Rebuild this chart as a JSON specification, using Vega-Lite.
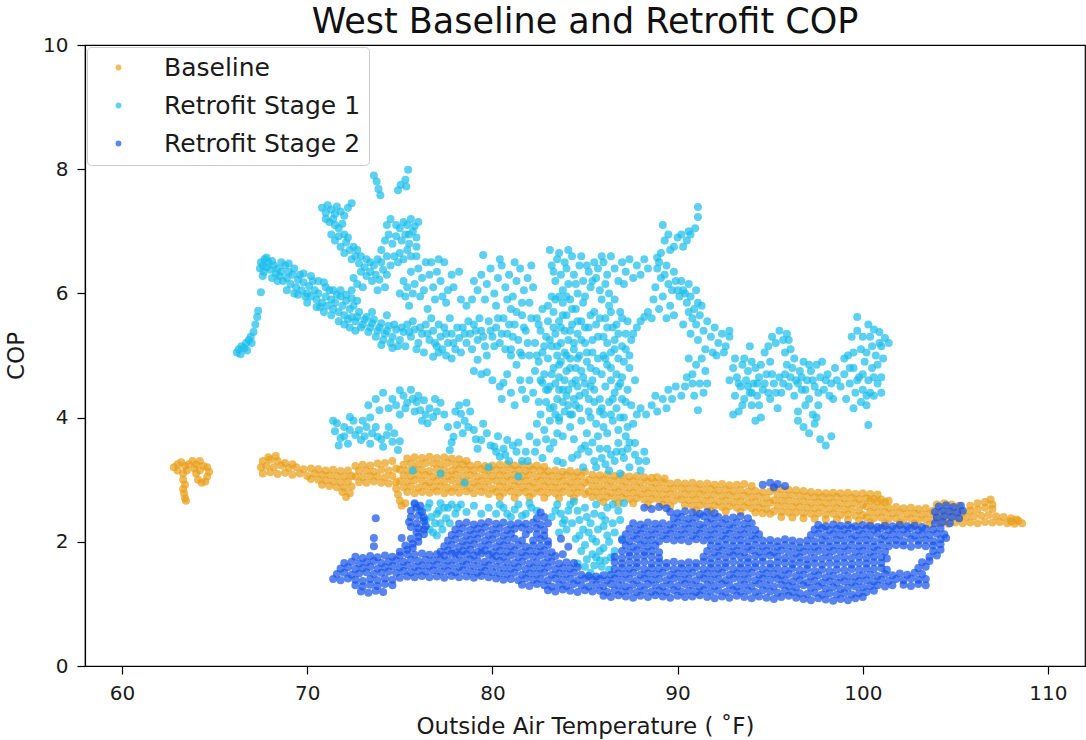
{
  "$schema": "https://vega.github.io/schema/vega-lite/v6.json",
  "width": 1000,
  "height": 621,
  "autosize": {"type": "none"},
  "padding": {"left": 85, "top": 45, "right": 1, "bottom": 74},
  "background": "white",
  "title": {"text": "West Baseline and Retrofit COP", "font": "DejaVu Sans", "fontSize": 35, "fontWeight": "normal", "color": "#111111", "anchor": "middle", "offset": -5},
  "datasets": {
    "baseline": [
      {"x":62.8,"y":3.2},{"x":63.0,"y":3.25},{"x":63.2,"y":3.28},{"x":63.4,"y":3.22},{"x":63.6,"y":3.25},{"x":63.8,"y":3.3},{"x":64.0,"y":3.25},{"x":64.2,"y":3.3},{"x":64.4,"y":3.22},{"x":64.6,"y":3.2},{"x":64.7,"y":3.13},{"x":63.0,"y":3.15},{"x":63.3,"y":3.1},{"x":63.5,"y":3.15},{"x":63.3,"y":3.0},{"x":63.4,"y":2.92},{"x":63.3,"y":2.85},{"x":63.35,"y":2.78},{"x":63.4,"y":2.7},{"x":63.45,"y":2.66},{"x":64.0,"y":3.1},{"x":64.1,"y":3.0},{"x":64.3,"y":2.95},{"x":64.5,"y":2.97},{"x":64.6,"y":3.05},{"x":64.2,"y":3.15},{"x":63.9,"y":3.18},
      {"x":67.6,"y":3.1},{"x":68.0,"y":3.12},{"x":68.4,"y":3.09},{"x":68.8,"y":3.11},{"x":69.2,"y":3.08},{"x":69.6,"y":3.1},{"x":70.0,"y":3.06},
      {"x":67.5,"y":3.2},{"x":67.8,"y":3.22},{"x":68.2,"y":3.2},{"x":68.6,"y":3.23},{"x":69.0,"y":3.19},{"x":69.4,"y":3.2},{"x":69.8,"y":3.17},
      {"x":67.6,"y":3.3},{"x":68.0,"y":3.32},{"x":68.4,"y":3.3},{"x":68.8,"y":3.27},{"x":69.2,"y":3.25},{"x":67.9,"y":3.36},{"x":68.3,"y":3.38},
      {"x":70.2,"y":3.18},{"x":70.6,"y":3.17},{"x":71.0,"y":3.15},{"x":71.4,"y":3.16},{"x":71.8,"y":3.14},{"x":72.2,"y":3.15},
      {"x":70.4,"y":3.1},{"x":70.8,"y":3.08},{"x":71.2,"y":3.07},{"x":71.6,"y":3.06},{"x":72.0,"y":3.05},{"x":72.4,"y":3.06},
      {"x":70.2,"y":3.01},{"x":70.6,"y":3.0},{"x":71.0,"y":2.99},{"x":71.4,"y":2.97},{"x":71.8,"y":2.96},{"x":72.2,"y":2.97},
      {"x":70.8,"y":2.92},{"x":71.2,"y":2.9},{"x":71.6,"y":2.88},{"x":72.0,"y":2.87},{"x":72.4,"y":2.89},{"x":71.9,"y":2.8},{"x":72.1,"y":2.72},{"x":72.3,"y":2.78},
      {"x":72.6,"y":3.22},{"x":73.0,"y":3.24},{"x":73.4,"y":3.23},{"x":73.8,"y":3.26},{"x":74.2,"y":3.27},{"x":74.6,"y":3.3},
      {"x":72.8,"y":3.14},{"x":73.2,"y":3.15},{"x":73.6,"y":3.13},{"x":74.0,"y":3.16},{"x":74.4,"y":3.15},{"x":74.8,"y":3.18},
      {"x":72.6,"y":3.05},{"x":73.0,"y":3.04},{"x":73.4,"y":3.06},{"x":73.8,"y":3.05},{"x":74.2,"y":3.04},{"x":74.6,"y":3.06},
      {"x":72.8,"y":2.96},{"x":73.2,"y":2.95},{"x":73.6,"y":2.97},{"x":74.0,"y":2.95},{"x":74.4,"y":2.94},{"x":74.8,"y":2.96},
      {"x":74.8,"y":2.86},{"x":74.9,"y":2.76},{"x":75.0,"y":2.66},{"x":75.1,"y":2.58},{"x":75.3,"y":2.62},
      {"x":75.4,"y":3.34},{"x":75.8,"y":3.36},{"x":76.2,"y":3.35},{"x":76.6,"y":3.37},{"x":77.0,"y":3.35},{"x":77.4,"y":3.36},{"x":77.8,"y":3.34},{"x":78.2,"y":3.33},{"x":78.6,"y":3.3},
      {"x":75.2,"y":3.24},{"x":75.6,"y":3.26},{"x":76.0,"y":3.25},{"x":76.4,"y":3.27},{"x":76.8,"y":3.26},{"x":77.2,"y":3.25},{"x":77.6,"y":3.27},{"x":78.0,"y":3.24},{"x":78.4,"y":3.25},{"x":78.8,"y":3.23},{"x":79.2,"y":3.24},{"x":79.6,"y":3.22},{"x":80.0,"y":3.23},
      {"x":75.0,"y":3.16},{"x":75.4,"y":3.15},{"x":75.8,"y":3.17},{"x":76.2,"y":3.16},{"x":76.6,"y":3.14},{"x":77.0,"y":3.17},{"x":77.4,"y":3.16},{"x":77.8,"y":3.15},{"x":78.2,"y":3.17},{"x":78.6,"y":3.16},{"x":79.0,"y":3.15},{"x":79.4,"y":3.17},{"x":79.8,"y":3.15},
      {"x":75.2,"y":3.07},{"x":75.6,"y":3.06},{"x":76.0,"y":3.08},{"x":76.4,"y":3.07},{"x":76.8,"y":3.05},{"x":77.2,"y":3.07},{"x":77.6,"y":3.06},{"x":78.0,"y":3.08},{"x":78.4,"y":3.06},{"x":78.8,"y":3.07},{"x":79.2,"y":3.05},{"x":79.6,"y":3.07},{"x":80.0,"y":3.06},
      {"x":75.0,"y":2.98},{"x":75.4,"y":2.97},{"x":75.8,"y":2.99},{"x":76.2,"y":2.98},{"x":76.6,"y":2.96},{"x":77.0,"y":2.98},{"x":77.4,"y":2.97},{"x":77.8,"y":2.99},{"x":78.2,"y":2.97},{"x":78.6,"y":2.98},{"x":79.0,"y":2.96},{"x":79.4,"y":2.98},{"x":79.8,"y":2.97},
      {"x":75.2,"y":2.88},{"x":75.6,"y":2.89},{"x":76.0,"y":2.87},{"x":76.4,"y":2.9},{"x":76.8,"y":2.88},{"x":77.2,"y":2.89},{"x":77.6,"y":2.87},{"x":78.0,"y":2.88},{"x":78.4,"y":2.9},{"x":78.8,"y":2.87},{"x":79.2,"y":2.89},{"x":79.6,"y":2.88},{"x":80.0,"y":2.86},
      {"x":75.4,"y":2.8},{"x":75.8,"y":2.78},{"x":76.2,"y":2.8},{"x":76.6,"y":2.79},{"x":77.0,"y":2.81},{"x":77.4,"y":2.78},{"x":77.8,"y":2.8},{"x":78.2,"y":2.79},{"x":78.6,"y":2.81},{"x":79.0,"y":2.78},{"x":79.4,"y":2.8},{"x":79.8,"y":2.77},
      {"x":80.4,"y":3.24},{"x":80.8,"y":3.25},{"x":81.2,"y":3.23},{"x":81.6,"y":3.24},{"x":82.0,"y":3.22},{"x":82.4,"y":3.23},{"x":82.8,"y":3.21},
      {"x":80.2,"y":3.16},{"x":80.6,"y":3.15},{"x":81.0,"y":3.17},{"x":81.4,"y":3.16},{"x":81.8,"y":3.14},{"x":82.2,"y":3.16},{"x":82.6,"y":3.15},{"x":83.0,"y":3.14},{"x":83.4,"y":3.15},{"x":83.8,"y":3.13},{"x":84.2,"y":3.14},{"x":84.6,"y":3.12},{"x":85.0,"y":3.13},
      {"x":80.4,"y":3.07},{"x":80.8,"y":3.06},{"x":81.2,"y":3.08},{"x":81.6,"y":3.06},{"x":82.0,"y":3.07},{"x":82.4,"y":3.05},{"x":82.8,"y":3.07},{"x":83.2,"y":3.06},{"x":83.6,"y":3.05},{"x":84.0,"y":3.07},{"x":84.4,"y":3.05},{"x":84.8,"y":3.06},
      {"x":80.2,"y":2.98},{"x":80.6,"y":2.97},{"x":81.0,"y":2.99},{"x":81.4,"y":2.97},{"x":81.8,"y":2.98},{"x":82.2,"y":2.96},{"x":82.6,"y":2.98},{"x":83.0,"y":2.97},{"x":83.4,"y":2.96},{"x":83.8,"y":2.98},{"x":84.2,"y":2.96},{"x":84.6,"y":2.97},{"x":85.0,"y":2.95},
      {"x":80.4,"y":2.89},{"x":80.8,"y":2.88},{"x":81.2,"y":2.9},{"x":81.6,"y":2.88},{"x":82.0,"y":2.89},{"x":82.4,"y":2.87},{"x":82.8,"y":2.89},{"x":83.2,"y":2.88},{"x":83.6,"y":2.87},{"x":84.0,"y":2.89},{"x":84.4,"y":2.87},{"x":84.8,"y":2.88},
      {"x":80.2,"y":2.8},{"x":80.6,"y":2.79},{"x":81.0,"y":2.81},{"x":81.4,"y":2.79},{"x":81.8,"y":2.8},{"x":82.2,"y":2.78},{"x":82.6,"y":2.8},{"x":83.0,"y":2.79},{"x":83.4,"y":2.78},{"x":83.8,"y":2.8},{"x":84.2,"y":2.78},{"x":84.6,"y":2.79},{"x":85.0,"y":2.77},
      {"x":80.4,"y":2.72},{"x":81.2,"y":2.71},{"x":82.0,"y":2.72},{"x":82.8,"y":2.71},{"x":83.6,"y":2.7},{"x":84.4,"y":2.7},
      {"x":85.4,"y":3.08},{"x":85.8,"y":3.07},{"x":86.2,"y":3.08},{"x":86.6,"y":3.06},{"x":87.0,"y":3.07},{"x":87.4,"y":3.05},{"x":87.8,"y":3.06},{"x":88.2,"y":3.04},{"x":88.6,"y":3.03},{"x":88.9,"y":3.04},{"x":89.3,"y":3.02},
      {"x":85.2,"y":3.0},{"x":85.6,"y":2.99},{"x":86.0,"y":3.0},{"x":86.4,"y":2.98},{"x":86.8,"y":2.99},{"x":87.2,"y":2.97},{"x":87.6,"y":2.98},{"x":88.0,"y":2.96},{"x":88.4,"y":2.97},{"x":88.8,"y":2.95},{"x":89.2,"y":2.96},{"x":89.6,"y":2.94},{"x":90.0,"y":2.95},
      {"x":85.4,"y":2.9},{"x":85.8,"y":2.89},{"x":86.2,"y":2.9},{"x":86.6,"y":2.88},{"x":87.0,"y":2.89},{"x":87.4,"y":2.87},{"x":87.8,"y":2.88},{"x":88.2,"y":2.86},{"x":88.6,"y":2.87},{"x":89.0,"y":2.86},{"x":89.4,"y":2.85},{"x":89.8,"y":2.86},
      {"x":85.2,"y":2.81},{"x":85.6,"y":2.8},{"x":86.0,"y":2.81},{"x":86.4,"y":2.79},{"x":86.8,"y":2.8},{"x":87.2,"y":2.78},{"x":87.6,"y":2.79},{"x":88.0,"y":2.77},{"x":88.4,"y":2.78},{"x":88.8,"y":2.77},{"x":89.2,"y":2.76},{"x":89.6,"y":2.77},{"x":90.0,"y":2.75},
      {"x":85.4,"y":2.72},{"x":85.8,"y":2.71},{"x":86.2,"y":2.72},{"x":86.6,"y":2.7},{"x":87.0,"y":2.71},{"x":87.4,"y":2.69},{"x":87.8,"y":2.7},{"x":88.2,"y":2.68},{"x":88.6,"y":2.69},{"x":89.0,"y":2.67},{"x":89.4,"y":2.68},{"x":89.8,"y":2.66},
      {"x":86.0,"y":2.64},{"x":86.8,"y":2.62},{"x":87.6,"y":2.62},{"x":88.4,"y":2.6},{"x":89.2,"y":2.6},{"x":89.6,"y":2.58},
      {"x":90.4,"y":2.94},{"x":90.8,"y":2.95},{"x":91.2,"y":2.93},{"x":91.6,"y":2.94},{"x":92.0,"y":2.92},{"x":92.4,"y":2.93},{"x":92.8,"y":2.91},{"x":93.2,"y":2.92},{"x":93.6,"y":2.93},{"x":94.0,"y":2.9},
      {"x":90.2,"y":2.86},{"x":90.6,"y":2.85},{"x":91.0,"y":2.86},{"x":91.4,"y":2.84},{"x":91.8,"y":2.85},{"x":92.2,"y":2.83},{"x":92.6,"y":2.84},{"x":93.0,"y":2.82},{"x":93.4,"y":2.83},{"x":93.8,"y":2.81},{"x":94.2,"y":2.82},{"x":94.6,"y":2.8},{"x":95.0,"y":2.81},
      {"x":90.4,"y":2.77},{"x":90.8,"y":2.76},{"x":91.2,"y":2.77},{"x":91.6,"y":2.75},{"x":92.0,"y":2.76},{"x":92.4,"y":2.74},{"x":92.8,"y":2.75},{"x":93.2,"y":2.73},{"x":93.6,"y":2.74},{"x":94.0,"y":2.72},{"x":94.4,"y":2.73},{"x":94.8,"y":2.71},
      {"x":90.2,"y":2.68},{"x":90.6,"y":2.67},{"x":91.0,"y":2.68},{"x":91.4,"y":2.66},{"x":91.8,"y":2.67},{"x":92.2,"y":2.65},{"x":92.6,"y":2.66},{"x":93.0,"y":2.64},{"x":93.4,"y":2.65},{"x":93.8,"y":2.63},{"x":94.2,"y":2.64},{"x":94.6,"y":2.62},{"x":95.0,"y":2.63},
      {"x":90.4,"y":2.59},{"x":90.8,"y":2.58},{"x":91.2,"y":2.59},{"x":91.6,"y":2.57},{"x":92.0,"y":2.58},{"x":92.4,"y":2.56},{"x":92.8,"y":2.57},{"x":93.2,"y":2.55},{"x":93.6,"y":2.56},{"x":94.0,"y":2.54},{"x":94.4,"y":2.55},{"x":94.8,"y":2.53},
      {"x":91.0,"y":2.51},{"x":91.8,"y":2.5},{"x":92.6,"y":2.49},{"x":93.4,"y":2.48},{"x":94.2,"y":2.47},{"x":94.6,"y":2.46},{"x":95.0,"y":2.45},
      {"x":95.2,"y":2.86},{"x":95.6,"y":2.85},{"x":96.0,"y":2.84},{"x":96.4,"y":2.83},{"x":96.8,"y":2.82},{"x":97.2,"y":2.8},{"x":97.6,"y":2.79},
      {"x":95.4,"y":2.76},{"x":95.8,"y":2.75},{"x":96.2,"y":2.75},{"x":96.6,"y":2.74},{"x":97.0,"y":2.73},{"x":97.4,"y":2.72},{"x":97.8,"y":2.72},{"x":98.2,"y":2.71},{"x":98.6,"y":2.72},{"x":99.0,"y":2.7},{"x":99.4,"y":2.71},{"x":99.8,"y":2.69},
      {"x":95.2,"y":2.67},{"x":95.6,"y":2.66},{"x":96.0,"y":2.66},{"x":96.4,"y":2.64},{"x":96.8,"y":2.65},{"x":97.2,"y":2.63},{"x":97.6,"y":2.64},{"x":98.0,"y":2.62},{"x":98.4,"y":2.63},{"x":98.8,"y":2.62},{"x":99.2,"y":2.61},{"x":99.6,"y":2.62},{"x":100.0,"y":2.6},
      {"x":95.4,"y":2.58},{"x":95.8,"y":2.57},{"x":96.2,"y":2.56},{"x":96.6,"y":2.56},{"x":97.0,"y":2.55},{"x":97.4,"y":2.54},{"x":97.8,"y":2.55},{"x":98.2,"y":2.53},{"x":98.6,"y":2.54},{"x":99.0,"y":2.52},{"x":99.4,"y":2.53},{"x":99.8,"y":2.51},
      {"x":95.2,"y":2.49},{"x":95.6,"y":2.48},{"x":96.0,"y":2.47},{"x":96.4,"y":2.47},{"x":96.8,"y":2.46},{"x":97.2,"y":2.45},{"x":97.6,"y":2.46},{"x":98.0,"y":2.44},{"x":98.4,"y":2.45},{"x":98.8,"y":2.43},{"x":99.2,"y":2.44},{"x":99.6,"y":2.42},{"x":100.0,"y":2.43},
      {"x":95.6,"y":2.4},{"x":96.2,"y":2.39},{"x":96.8,"y":2.38},{"x":97.4,"y":2.37},{"x":98.0,"y":2.36},{"x":98.6,"y":2.36},{"x":99.2,"y":2.35},{"x":99.8,"y":2.34},
      {"x":98.0,"y":2.78},{"x":98.4,"y":2.79},{"x":98.8,"y":2.78},{"x":99.2,"y":2.79},{"x":99.6,"y":2.77},{"x":100.0,"y":2.78},{"x":100.4,"y":2.77},{"x":100.8,"y":2.76},
      {"x":100.2,"y":2.7},{"x":100.6,"y":2.69},{"x":101.0,"y":2.68},{"x":101.4,"y":2.66},{"x":100.4,"y":2.66},{"x":100.8,"y":2.65},{"x":101.2,"y":2.64},
      {"x":100.2,"y":2.57},{"x":100.6,"y":2.56},{"x":101.0,"y":2.57},{"x":101.4,"y":2.55},{"x":101.8,"y":2.56},{"x":102.2,"y":2.54},{"x":102.6,"y":2.55},{"x":103.0,"y":2.53},{"x":103.4,"y":2.54},
      {"x":100.4,"y":2.48},{"x":100.8,"y":2.47},{"x":101.2,"y":2.48},{"x":101.6,"y":2.46},{"x":102.0,"y":2.47},{"x":102.4,"y":2.45},{"x":102.8,"y":2.46},{"x":103.2,"y":2.44},{"x":103.6,"y":2.45},
      {"x":100.2,"y":2.39},{"x":100.6,"y":2.38},{"x":101.0,"y":2.39},{"x":101.4,"y":2.37},{"x":101.8,"y":2.38},{"x":102.2,"y":2.36},{"x":102.6,"y":2.37},{"x":103.0,"y":2.35},{"x":103.4,"y":2.36},{"x":103.8,"y":2.35},
      {"x":100.4,"y":2.31},{"x":101.2,"y":2.3},{"x":102.0,"y":2.3},{"x":102.8,"y":2.29},{"x":103.6,"y":2.28},
      {"x":104.0,"y":2.6},{"x":104.4,"y":2.62},{"x":104.8,"y":2.6},{"x":105.2,"y":2.58},
      {"x":103.8,"y":2.5},{"x":104.2,"y":2.48},{"x":104.6,"y":2.49},{"x":105.0,"y":2.48},{"x":105.4,"y":2.47},{"x":105.8,"y":2.5},{"x":106.2,"y":2.52},{"x":106.6,"y":2.55},{"x":107.0,"y":2.53},
      {"x":104.0,"y":2.4},{"x":104.4,"y":2.39},{"x":104.8,"y":2.4},{"x":105.2,"y":2.38},{"x":105.6,"y":2.4},{"x":106.0,"y":2.41},{"x":106.4,"y":2.42},{"x":106.8,"y":2.43},{"x":107.2,"y":2.41},{"x":107.6,"y":2.4},{"x":108.0,"y":2.38},{"x":108.3,"y":2.36},
      {"x":104.2,"y":2.3},{"x":104.6,"y":2.29},{"x":105.0,"y":2.31},{"x":105.4,"y":2.3},{"x":105.8,"y":2.31},{"x":106.2,"y":2.3},{"x":106.6,"y":2.32},{"x":107.0,"y":2.31},{"x":107.4,"y":2.32},{"x":107.8,"y":2.3},{"x":108.2,"y":2.29},{"x":108.6,"y":2.3},
      {"x":105.8,"y":2.58},{"x":106.2,"y":2.62},{"x":106.6,"y":2.64},{"x":107.0,"y":2.6},{"x":106.9,"y":2.68},{"x":108.0,"y":2.33},{"x":108.4,"y":2.34}
    ],
    "stage1": [
      {"x":66.2,"y":5.05},{"x":66.3,"y":5.1},{"x":66.4,"y":5.02},{"x":66.45,"y":5.15},{"x":66.6,"y":5.12},{"x":66.7,"y":5.2},{"x":66.75,"y":5.08},{"x":66.85,"y":5.25},{"x":66.95,"y":5.3},{"x":67.0,"y":5.2},{"x":67.1,"y":5.38},{"x":67.2,"y":5.5},{"x":67.3,"y":5.62},{"x":67.35,"y":5.72},{"x":67.5,"y":6.02},
      {"x":67.45,"y":6.4},{"x":67.5,"y":6.5},{"x":67.6,"y":6.45},{"x":67.7,"y":6.55},{"x":67.65,"y":6.35},{"x":67.8,"y":6.42},{"x":67.9,"y":6.5},{"x":68.0,"y":6.38},{"x":68.2,"y":6.45},{"x":68.3,"y":6.32},{"x":68.5,"y":6.28},{"x":68.8,"y":6.45},{"x":68.7,"y":6.2},{"x":68.9,"y":6.25},{"x":69.1,"y":6.15},{"x":69.2,"y":6.3},{"x":69.4,"y":6.1},{"x":69.5,"y":6.22},{"x":69.7,"y":6.05},{"x":69.8,"y":6.18},{"x":70.0,"y":6.0},{"x":70.1,"y":6.12},{"x":70.2,"y":5.95},{"x":70.4,"y":6.05},{"x":70.5,"y":5.9},{"x":70.6,"y":6.0},{"x":70.8,"y":5.85},{"x":70.9,"y":6.18},{"x":71.0,"y":5.95},{"x":71.1,"y":5.8},{"x":71.3,"y":5.9},{"x":71.4,"y":5.75},{"x":71.5,"y":5.85},{"x":71.7,"y":5.7},{"x":71.8,"y":5.95},{"x":71.9,"y":5.8},{"x":72.0,"y":5.65},{"x":72.1,"y":5.88},{"x":72.3,"y":5.75},{"x":72.4,"y":5.62},
      {"x":68.4,"y":6.4},{"x":68.6,"y":6.35},{"x":69.0,"y":6.35},{"x":69.3,"y":6.0},{"x":69.6,"y":6.3},{"x":69.9,"y":5.95},{"x":70.3,"y":6.2},{"x":70.7,"y":5.78},{"x":71.2,"y":6.05},{"x":71.6,"y":5.98},{"x":72.2,"y":5.58},{"x":72.5,"y":5.8},
      {"x":67.6,"y":6.28},{"x":67.8,"y":6.58},{"x":68.1,"y":6.52},{"x":68.1,"y":6.25},{"x":68.4,"y":6.2},{"x":68.6,"y":6.5},{"x":68.9,"y":6.05},{"x":69.0,"y":6.48},{"x":69.3,"y":6.4},{"x":69.5,"y":5.98},{"x":69.8,"y":6.32},{"x":70.0,"y":5.85},{"x":70.2,"y":6.28},{"x":70.5,"y":5.78},{"x":70.6,"y":6.2},{"x":70.9,"y":5.7},{"x":71.0,"y":6.1},{"x":71.3,"y":5.65},{"x":71.4,"y":6.05},{"x":71.7,"y":5.55},{"x":71.8,"y":6.05},{"x":72.0,"y":5.5},{"x":72.1,"y":5.98},{"x":72.3,"y":5.45},{"x":72.4,"y":5.92},{"x":72.6,"y":5.4},{"x":72.7,"y":5.88},
      {"x":70.8,"y":7.38},{"x":71.0,"y":7.3},{"x":71.1,"y":7.42},{"x":71.3,"y":7.35},{"x":71.5,"y":7.28},{"x":71.6,"y":7.4},{"x":71.8,"y":7.32},{"x":72.0,"y":7.25},{"x":72.2,"y":7.38},{"x":72.4,"y":7.45},{"x":71.2,"y":7.15},{"x":71.5,"y":7.1},{"x":71.9,"y":7.12},
      {"x":71.3,"y":6.95},{"x":71.5,"y":6.85},{"x":71.7,"y":6.92},{"x":71.8,"y":6.75},{"x":72.0,"y":6.65},{"x":72.1,"y":6.82},{"x":72.3,"y":6.7},{"x":72.4,"y":6.55},{"x":72.6,"y":6.6},{"x":72.8,"y":6.48},{"x":72.9,"y":6.35},{"x":73.1,"y":6.42},{"x":73.2,"y":6.28},{"x":73.4,"y":6.35},{"x":73.5,"y":6.2},{"x":73.7,"y":6.3},{"x":73.9,"y":6.22},{"x":74.1,"y":6.38},{"x":74.3,"y":6.3},{"x":72.5,"y":6.25},{"x":72.7,"y":6.15},{"x":73.0,"y":6.1},
      {"x":71.0,"y":7.2},{"x":71.4,"y":7.2},{"x":71.7,"y":7.05},{"x":72.0,"y":6.95},{"x":72.2,"y":6.9},{"x":72.5,"y":6.75},{"x":72.7,"y":6.7},{"x":72.9,"y":6.6},{"x":73.2,"y":6.55},{"x":73.4,"y":6.5},{"x":73.6,"y":6.45},{"x":73.8,"y":6.55},{"x":74.0,"y":6.5},{"x":74.3,"y":6.6},{"x":74.5,"y":6.45},{"x":74.9,"y":6.5},{"x":75.2,"y":6.55},{"x":75.6,"y":6.6},{"x":75.9,"y":6.75},{"x":76.0,"y":7.15},{"x":74.3,"y":7.1},{"x":74.8,"y":7.1},{"x":75.5,"y":6.95},{"x":75.9,"y":6.6},
      {"x":74.0,"y":6.7},{"x":74.2,"y":6.85},{"x":74.4,"y":6.95},{"x":74.5,"y":7.2},{"x":74.6,"y":6.8},{"x":74.8,"y":6.92},{"x":75.0,"y":7.05},{"x":75.1,"y":6.85},{"x":75.2,"y":7.15},{"x":75.3,"y":6.95},{"x":75.4,"y":7.1},{"x":75.5,"y":6.8},{"x":75.6,"y":7.2},{"x":75.7,"y":7.0},{"x":75.8,"y":7.08},{"x":75.9,"y":6.9},{"x":75.0,"y":6.65},{"x":74.7,"y":6.6},{"x":75.4,"y":6.7},
      {"x":73.6,"y":7.9},{"x":73.75,"y":7.8},{"x":73.85,"y":7.68},{"x":73.95,"y":7.58},{"x":74.9,"y":7.66},{"x":75.05,"y":7.75},{"x":75.3,"y":7.83},{"x":75.45,"y":7.99},{"x":75.35,"y":7.72},
      {"x":72.6,"y":5.55},{"x":72.8,"y":5.7},{"x":73.0,"y":5.5},{"x":73.2,"y":5.62},{"x":73.4,"y":5.45},{"x":73.6,"y":5.58},{"x":73.8,"y":5.4},{"x":74.0,"y":5.52},{"x":74.2,"y":5.35},{"x":74.4,"y":5.48},{"x":74.6,"y":5.3},{"x":74.8,"y":5.42},{"x":75.0,"y":5.25},{"x":75.2,"y":5.38},{"x":75.4,"y":5.5},{"x":75.6,"y":5.3},{"x":75.8,"y":5.42},{"x":76.0,"y":5.2},{"x":76.2,"y":5.35},{"x":76.4,"y":5.5},{"x":76.6,"y":5.25},{"x":76.8,"y":5.4},{"x":77.0,"y":5.15},{"x":77.2,"y":5.3},{"x":77.4,"y":5.45},{"x":77.6,"y":5.2},{"x":77.8,"y":5.35},{"x":78.0,"y":5.1},{"x":78.2,"y":5.28},{"x":78.4,"y":5.45},{"x":78.6,"y":5.2},{"x":78.8,"y":5.35},{"x":79.0,"y":5.5},{"x":79.2,"y":5.25},{"x":79.4,"y":5.4},{"x":79.6,"y":5.15},{"x":79.8,"y":5.55},{"x":80.0,"y":5.3},{"x":80.2,"y":5.45},{"x":80.4,"y":5.2},{"x":80.6,"y":5.6},{"x":80.8,"y":5.35},{"x":81.0,"y":5.1},{"x":81.2,"y":5.5},{"x":81.4,"y":5.25},{"x":81.6,"y":5.65},{"x":81.8,"y":5.4},{"x":82.0,"y":5.0},
      {"x":72.7,"y":5.62},{"x":72.9,"y":5.45},{"x":73.1,"y":5.58},{"x":73.3,"y":5.38},{"x":73.5,"y":5.52},{"x":73.7,"y":5.3},{"x":73.9,"y":5.45},{"x":74.1,"y":5.25},{"x":74.3,"y":5.4},{"x":74.5,"y":5.2},{"x":74.7,"y":5.5},{"x":74.9,"y":5.15},{"x":75.1,"y":5.45},{"x":75.3,"y":5.15},{"x":75.5,"y":5.38},{"x":75.7,"y":5.55},{"x":75.9,"y":5.1},{"x":76.1,"y":5.45},{"x":76.3,"y":5.05},{"x":76.5,"y":5.35},{"x":76.7,"y":5.6},{"x":76.9,"y":5.2},{"x":77.1,"y":5.5},{"x":77.3,"y":5.1},{"x":77.5,"y":5.35},{"x":77.7,"y":5.6},{"x":77.9,"y":5.2},{"x":78.1,"y":5.45},{"x":78.3,"y":5.05},{"x":78.5,"y":5.35},{"x":78.7,"y":5.55},{"x":78.9,"y":5.1},{"x":79.1,"y":5.4},{"x":79.3,"y":5.6},{"x":79.5,"y":5.3},{"x":79.7,"y":5.0},{"x":79.9,"y":5.4},{"x":80.1,"y":5.15},{"x":80.3,"y":5.6},{"x":80.5,"y":5.35},{"x":80.7,"y":5.1},{"x":80.9,"y":5.5},{"x":81.1,"y":5.3},{"x":81.3,"y":5.7},{"x":81.5,"y":5.05},{"x":81.7,"y":5.45},{"x":81.9,"y":5.2},{"x":82.1,"y":5.6},
      {"x":74.0,"y":5.17},{"x":74.6,"y":5.12},{"x":73.5,"y":5.7},{"x":74.3,"y":5.65},{"x":76.8,"y":4.98},{"x":77.1,"y":5.05},{"x":77.5,"y":5.0},{"x":77.8,"y":4.95},{"x":79.2,"y":4.93},{"x":79.7,"y":4.73},{"x":80.4,"y":4.5},{"x":80.5,"y":4.3},{"x":81.0,"y":5.0},{"x":81.3,"y":4.85},{"x":81.6,"y":5.0},{"x":72.4,"y":6.05},{"x":73.8,"y":6.05},{"x":74.2,"y":6.1},
      {"x":75.0,"y":6.0},{"x":75.2,"y":6.2},{"x":75.4,"y":6.1},{"x":75.6,"y":6.35},{"x":75.8,"y":6.15},{"x":76.0,"y":6.4},{"x":76.2,"y":6.25},{"x":76.4,"y":6.5},{"x":76.6,"y":6.3},{"x":76.8,"y":6.1},{"x":77.0,"y":6.35},{"x":77.2,"y":6.2},{"x":77.4,"y":6.5},{"x":77.6,"y":6.05},{"x":77.8,"y":6.3},{"x":76.1,"y":5.95},{"x":76.9,"y":5.9},{"x":77.5,"y":5.85},{"x":75.5,"y":5.8},{"x":76.5,"y":5.75},
      {"x":75.3,"y":5.95},{"x":75.7,"y":6.0},{"x":76.3,"y":6.05},{"x":76.7,"y":6.5},{"x":77.1,"y":6.55},{"x":77.3,"y":5.95},{"x":77.9,"y":6.1},{"x":78.2,"y":6.35},{"x":78.3,"y":5.9},{"x":79.6,"y":5.9},{"x":80.4,"y":6.55},{"x":80.8,"y":5.9},{"x":81.2,"y":6.5},{"x":81.6,"y":5.85},{"x":82.2,"y":6.1},
      {"x":79.0,"y":6.2},{"x":79.2,"y":6.05},{"x":79.5,"y":6.62},{"x":79.4,"y":6.3},{"x":79.7,"y":6.15},{"x":79.9,"y":6.4},{"x":80.1,"y":6.0},{"x":80.3,"y":6.25},{"x":80.5,"y":6.45},{"x":80.7,"y":6.1},{"x":80.9,"y":6.3},{"x":81.1,"y":5.95},{"x":81.3,"y":6.2},{"x":81.5,"y":6.4},{"x":81.7,"y":6.05},{"x":81.9,"y":6.25},{"x":82.1,"y":6.45},{"x":78.6,"y":5.8},{"x":78.9,"y":5.9},{"x":80.2,"y":5.8},{"x":81.0,"y":5.75},{"x":82.0,"y":5.85},
      {"x":82.3,"y":5.2},{"x":82.5,"y":4.9},{"x":82.6,"y":5.4},{"x":82.7,"y":5.05},{"x":82.8,"y":4.7},{"x":82.9,"y":5.3},{"x":83.0,"y":5.55},{"x":83.0,"y":4.95},{"x":83.1,"y":4.5},{"x":83.2,"y":5.15},{"x":83.3,"y":5.7},{"x":83.3,"y":4.8},{"x":83.4,"y":5.35},{"x":83.5,"y":5.0},{"x":83.5,"y":4.3},{"x":83.6,"y":5.55},{"x":83.6,"y":4.65},{"x":83.7,"y":5.2},{"x":83.7,"y":4.9},{"x":83.8,"y":5.85},{"x":83.8,"y":4.45},{"x":83.9,"y":5.4},{"x":83.9,"y":5.05},{"x":84.0,"y":4.75},{"x":84.0,"y":5.65},{"x":84.1,"y":4.2},{"x":84.1,"y":5.25},{"x":84.2,"y":4.95},{"x":84.3,"y":5.5},{"x":84.3,"y":4.55},{"x":84.4,"y":5.1},{"x":84.5,"y":4.8},{"x":84.5,"y":5.75},{"x":84.6,"y":5.35},{"x":84.7,"y":4.35},{"x":84.7,"y":5.0},{"x":84.8,"y":5.55},{"x":84.9,"y":4.65},{"x":85.0,"y":5.2},{"x":85.1,"y":4.9},{"x":85.2,"y":5.45},{"x":85.3,"y":4.5},{"x":85.4,"y":5.05},{"x":85.5,"y":5.7},{"x":85.6,"y":4.75},{"x":85.7,"y":5.3},{"x":85.8,"y":4.1},{"x":83.4,"y":4.05},{"x":83.2,"y":5.95},{"x":82.4,"y":5.6},{"x":82.9,"y":4.25},{"x":84.2,"y":4.05},
      {"x":82.4,"y":5.0},{"x":82.5,"y":5.5},{"x":82.6,"y":4.6},{"x":82.7,"y":5.75},{"x":82.8,"y":5.15},{"x":82.9,"y":4.45},{"x":83.0,"y":5.8},{"x":83.1,"y":5.25},{"x":83.1,"y":4.15},{"x":83.2,"y":4.7},{"x":83.3,"y":5.45},{"x":83.4,"y":4.55},{"x":83.4,"y":5.9},{"x":83.5,"y":5.15},{"x":83.6,"y":4.0},{"x":83.6,"y":4.85},{"x":83.7,"y":5.45},{"x":83.8,"y":4.25},{"x":83.8,"y":5.65},{"x":83.9,"y":4.6},{"x":84.0,"y":5.0},{"x":84.0,"y":5.95},{"x":84.1,"y":4.45},{"x":84.2,"y":5.4},{"x":84.2,"y":4.8},{"x":84.3,"y":5.75},{"x":84.4,"y":4.3},{"x":84.4,"y":5.2},{"x":84.5,"y":4.6},{"x":84.6,"y":5.55},{"x":84.6,"y":4.95},{"x":84.7,"y":4.15},{"x":84.8,"y":5.25},{"x":84.8,"y":4.75},{"x":84.9,"y":5.85},{"x":85.0,"y":4.55},{"x":85.0,"y":5.45},{"x":85.1,"y":5.05},{"x":85.2,"y":4.3},{"x":85.3,"y":5.65},{"x":85.3,"y":4.8},{"x":85.4,"y":5.25},{"x":85.5,"y":4.45},{"x":85.6,"y":5.5},{"x":85.7,"y":4.95},{"x":85.8,"y":5.6},
      {"x":83.1,"y":6.7},{"x":83.2,"y":6.45},{"x":83.4,"y":6.2},{"x":83.5,"y":6.55},{"x":83.7,"y":6.3},{"x":83.8,"y":6.05},{"x":84.0,"y":6.4},{"x":84.1,"y":6.15},{"x":84.3,"y":6.6},{"x":84.4,"y":6.3},{"x":84.6,"y":6.0},{"x":84.7,"y":6.45},{"x":84.9,"y":6.2},{"x":85.0,"y":5.95},{"x":85.2,"y":6.35},{"x":85.3,"y":6.1},{"x":85.5,"y":6.5},{"x":85.6,"y":6.25},{"x":85.8,"y":6.05},{"x":84.2,"y":5.9},{"x":83.6,"y":5.95},
      {"x":83.3,"y":6.35},{"x":83.6,"y":6.65},{"x":83.9,"y":6.5},{"x":84.1,"y":6.7},{"x":84.5,"y":6.15},{"x":84.8,"y":6.6},{"x":85.1,"y":6.45},{"x":85.4,"y":6.2},{"x":85.7,"y":6.4},{"x":85.9,"y":6.6},
      {"x":86.0,"y":6.5},{"x":86.2,"y":6.3},{"x":86.4,"y":6.6},{"x":86.6,"y":6.4},{"x":86.8,"y":6.2},{"x":87.0,"y":6.5},{"x":87.2,"y":6.35},{"x":87.4,"y":6.55},{"x":87.6,"y":6.25},{"x":87.8,"y":6.45},{"x":88.0,"y":6.3},{"x":88.2,"y":6.55},{"x":88.4,"y":6.4},{"x":86.1,"y":6.15},{"x":87.1,"y":6.15},
      {"x":85.9,"y":5.9},{"x":86.1,"y":5.6},{"x":86.3,"y":5.8},{"x":86.5,"y":5.45},{"x":86.2,"y":5.2},{"x":86.0,"y":5.0},{"x":86.4,"y":5.05},{"x":86.6,"y":5.25},{"x":86.8,"y":4.95},{"x":86.7,"y":5.5},{"x":87.0,"y":5.15},{"x":87.2,"y":5.35},{"x":87.4,"y":5.0},{"x":87.1,"y":4.9},{"x":86.9,"y":5.7},{"x":87.3,"y":5.55},{"x":86.3,"y":6.0},{"x":86.6,"y":5.9},
      {"x":86.0,"y":5.3},{"x":86.2,"y":5.45},{"x":86.4,"y":5.7},{"x":86.6,"y":5.1},{"x":86.8,"y":5.35},{"x":87.0,"y":5.6},{"x":87.2,"y":5.1},{"x":87.5,"y":5.25},{"x":86.1,"y":4.95},{"x":86.4,"y":4.8},{"x":86.7,"y":4.7},{"x":87.0,"y":4.65},{"x":87.4,"y":4.8},
      {"x":85.0,"y":4.4},{"x":85.2,"y":4.1},{"x":85.4,"y":4.6},{"x":85.6,"y":3.9},{"x":85.8,"y":4.3},{"x":85.9,"y":4.7},{"x":86.0,"y":4.05},{"x":86.1,"y":4.5},{"x":86.2,"y":3.75},{"x":86.3,"y":4.25},{"x":86.4,"y":4.6},{"x":86.5,"y":3.95},{"x":86.6,"y":4.4},{"x":86.7,"y":4.15},{"x":86.8,"y":3.8},{"x":86.9,"y":4.55},{"x":87.0,"y":4.3},{"x":87.1,"y":4.0},{"x":87.2,"y":3.7},{"x":87.3,"y":4.45},{"x":87.5,"y":4.2},{"x":87.6,"y":3.9},{"x":87.7,"y":4.6},{"x":85.5,"y":4.25},{"x":86.2,"y":4.85},{"x":85.1,"y":3.75},{"x":87.4,"y":3.6},
      {"x":85.3,"y":4.0},{"x":85.7,"y":3.7},{"x":85.9,"y":4.15},{"x":86.0,"y":3.85},{"x":86.4,"y":4.05},{"x":86.9,"y":4.0},{"x":87.3,"y":3.85},{"x":87.8,"y":4.05},{"x":86.5,"y":4.3},{"x":86.8,"y":4.5},{"x":87.2,"y":4.25},
      {"x":87.6,"y":5.35},{"x":87.8,"y":5.45},{"x":88.0,"y":5.55},{"x":88.2,"y":5.62},{"x":88.4,"y":5.7},{"x":88.6,"y":5.6},
      {"x":88.9,"y":6.4},{"x":89.1,"y":6.25},{"x":89.3,"y":6.3},{"x":89.5,"y":6.15},{"x":89.7,"y":6.05},{"x":89.9,"y":6.2},{"x":90.1,"y":5.95},{"x":90.3,"y":6.05},{"x":90.5,"y":5.85},{"x":90.7,"y":5.95},{"x":90.9,"y":5.75},{"x":91.1,"y":5.85},{"x":88.7,"y":5.9},{"x":89.0,"y":5.75},{"x":89.4,"y":5.6},{"x":88.8,"y":6.1},{"x":89.6,"y":5.8},
      {"x":89.0,"y":6.5},{"x":89.4,"y":6.45},{"x":89.8,"y":6.35},{"x":90.2,"y":6.2},{"x":90.0,"y":6.05},{"x":90.6,"y":6.15},{"x":91.0,"y":6.05},{"x":89.2,"y":5.95},{"x":89.8,"y":5.65},{"x":90.3,"y":5.5},{"x":90.7,"y":5.35},{"x":91.1,"y":5.25},{"x":91.5,"y":5.1},{"x":91.9,"y":5.05},
      {"x":91.1,"y":7.39},{"x":91.1,"y":7.23},{"x":90.95,"y":7.05},{"x":90.7,"y":6.95},{"x":90.5,"y":6.85},{"x":90.3,"y":6.75},{"x":90.0,"y":6.9},{"x":89.8,"y":6.75},{"x":89.6,"y":6.7},{"x":89.5,"y":6.95},{"x":89.3,"y":6.85},{"x":89.2,"y":7.1},{"x":89.1,"y":6.65},{"x":88.9,"y":6.58},{"x":90.2,"y":6.95},{"x":90.6,"y":7.0},
      {"x":90.4,"y":6.0},{"x":90.6,"y":5.7},{"x":90.8,"y":5.6},{"x":91.0,"y":5.5},{"x":91.2,"y":5.65},{"x":91.4,"y":5.4},{"x":91.6,"y":5.55},{"x":91.8,"y":5.3},{"x":92.0,"y":5.45},{"x":92.2,"y":5.2},{"x":92.4,"y":5.35},{"x":92.6,"y":5.15},{"x":92.8,"y":5.3},{"x":91.3,"y":5.8},
      {"x":90.6,"y":4.95},{"x":90.8,"y":4.7},{"x":91.0,"y":4.85},{"x":91.2,"y":4.55},{"x":91.4,"y":4.4},{"x":91.5,"y":4.75},{"x":90.9,"y":4.35},{"x":90.8,"y":4.55},{"x":91.3,"y":4.95},{"x":91.6,"y":4.55},{"x":90.5,"y":4.65},
      {"x":89.7,"y":4.3},{"x":89.9,"y":4.5},{"x":90.2,"y":4.35},{"x":90.4,"y":4.5},{"x":91.1,"y":4.12},
      {"x":88.3,"y":4.05},{"x":88.6,"y":4.2},{"x":88.9,"y":4.1},{"x":89.2,"y":4.3},{"x":89.4,"y":4.15},{"x":88.0,"y":4.15},{"x":88.8,"y":4.35},{"x":89.5,"y":4.45},
      {"x":92.1,"y":5.0},{"x":92.5,"y":5.05},{"x":92.8,"y":5.4},
      {"x":92.8,"y":4.6},{"x":93.0,"y":4.8},{"x":93.1,"y":4.35},{"x":93.2,"y":4.65},{"x":93.3,"y":4.1},{"x":93.4,"y":4.5},{"x":93.5,"y":4.85},{"x":93.6,"y":4.3},{"x":93.7,"y":4.6},{"x":93.8,"y":4.75},{"x":93.9,"y":4.4},{"x":94.0,"y":4.2},{"x":94.1,"y":4.55},{"x":94.2,"y":4.8},{"x":94.3,"y":4.35},{"x":94.4,"y":4.65},{"x":94.5,"y":4.0},{"x":94.6,"y":4.45},{"x":94.8,"y":4.7},{"x":95.0,"y":4.3},{"x":95.2,"y":4.55},{"x":95.4,"y":4.15},{"x":95.6,"y":4.4},{"x":93.0,"y":4.05},{"x":94.2,"y":3.95},{"x":95.0,"y":4.9},
      {"x":93.1,"y":4.95},{"x":93.3,"y":4.55},{"x":93.5,"y":4.2},{"x":93.6,"y":4.95},{"x":93.8,"y":4.5},{"x":94.0,"y":4.9},{"x":94.0,"y":4.4},{"x":94.3,"y":4.55},{"x":94.4,"y":4.2},{"x":94.5,"y":4.85},{"x":94.7,"y":4.55},{"x":94.9,"y":4.4},{"x":95.1,"y":4.7},{"x":95.3,"y":4.4},{"x":95.5,"y":4.65},{"x":95.7,"y":4.55},{"x":95.9,"y":4.85},{"x":96.1,"y":4.65},{"x":96.3,"y":4.95},{"x":96.5,"y":4.55},{"x":96.7,"y":4.65},{"x":96.9,"y":4.45},{"x":97.1,"y":4.85},{"x":97.3,"y":4.6},{"x":97.6,"y":4.4},{"x":97.8,"y":4.9},{"x":98.0,"y":4.6},{"x":98.2,"y":4.35},{"x":98.6,"y":4.6},{"x":96.9,"y":4.2},{"x":97.5,"y":4.0},{"x":95.8,"y":5.05},{"x":96.0,"y":5.25},{"x":94.7,"y":5.05},{"x":93.9,"y":5.15},
      {"x":94.9,"y":5.15},{"x":95.1,"y":5.3},{"x":95.3,"y":5.2},{"x":95.5,"y":5.4},{"x":95.7,"y":5.25},{"x":95.9,"y":5.35},{"x":96.1,"y":5.1},
      {"x":95.8,"y":4.7},{"x":96.0,"y":4.5},{"x":96.2,"y":4.8},{"x":96.3,"y":4.35},{"x":96.4,"y":4.6},{"x":96.6,"y":4.75},{"x":96.7,"y":4.45},{"x":96.8,"y":4.9},{"x":97.0,"y":4.6},{"x":97.1,"y":4.3},{"x":97.2,"y":4.75},{"x":97.4,"y":4.5},{"x":97.5,"y":4.85},{"x":97.6,"y":4.2},{"x":97.7,"y":4.65},{"x":97.9,"y":4.45},{"x":98.1,"y":4.7},{"x":98.3,"y":4.55},{"x":98.5,"y":4.8},{"x":98.4,"y":4.3},{"x":96.5,"y":4.1},{"x":97.3,"y":4.05},
      {"x":96.5,"y":3.95},{"x":96.8,"y":3.85},{"x":97.1,"y":3.75},{"x":97.4,"y":3.9},{"x":97.7,"y":3.65},{"x":98.0,"y":3.55},{"x":98.3,"y":3.7},
      {"x":99.7,"y":5.62},{"x":99.4,"y":5.3},{"x":99.2,"y":5.0},{"x":99.0,"y":4.7},{"x":98.8,"y":4.5},{"x":99.1,"y":4.3},{"x":99.3,"y":4.55},{"x":99.5,"y":4.8},{"x":99.6,"y":4.4},{"x":99.8,"y":4.65},{"x":99.9,"y":5.1},{"x":100.0,"y":4.45},{"x":100.1,"y":4.9},{"x":100.2,"y":4.2},{"x":100.3,"y":4.6},{"x":100.4,"y":5.3},{"x":100.5,"y":4.8},{"x":100.6,"y":4.35},{"x":100.7,"y":5.0},{"x":100.8,"y":4.55},{"x":100.9,"y":5.2},{"x":101.0,"y":4.4},{"x":100.3,"y":5.5},{"x":100.6,"y":5.42},{"x":100.9,"y":5.38},{"x":101.2,"y":5.28},{"x":101.4,"y":5.2},{"x":101.0,"y":5.15},{"x":100.3,"y":3.88},{"x":99.5,"y":4.15},
      {"x":99.0,"y":4.95},{"x":99.3,"y":4.8},{"x":99.5,"y":5.05},{"x":99.7,"y":5.4},{"x":99.7,"y":4.6},{"x":100.0,"y":5.3},{"x":100.0,"y":4.7},{"x":100.2,"y":5.05},{"x":100.4,"y":4.4},{"x":100.5,"y":5.15},{"x":100.6,"y":4.65},{"x":100.8,"y":4.85},{"x":101.0,"y":4.65},{"x":101.1,"y":4.95},{"x":100.2,"y":4.35},{"x":99.9,"y":4.25},
      {"x":71.6,"y":3.91},{"x":72.3,"y":4.01},{"x":72.3,"y":3.8},{"x":73.2,"y":3.85},{"x":73.8,"y":3.69},{"x":72.9,"y":3.64},{"x":74.1,"y":3.53},{"x":74.6,"y":3.61},{"x":74.9,"y":3.48},{"x":71.8,"y":3.67},{"x":72.0,"y":3.85},{"x":72.6,"y":3.72},{"x":73.0,"y":3.95},{"x":73.5,"y":3.75},{"x":74.3,"y":3.72},{"x":71.5,"y":3.78},{"x":72.2,"y":3.58},{"x":73.4,"y":3.58},{"x":75.0,"y":3.62},
      {"x":71.4,"y":3.95},{"x":71.7,"y":3.55},{"x":72.0,"y":3.7},{"x":72.5,"y":3.95},{"x":72.8,"y":3.8},{"x":73.1,"y":3.7},{"x":73.4,"y":4.0},{"x":73.7,"y":3.85},{"x":74.0,"y":3.65},{"x":74.4,"y":3.85},{"x":74.7,"y":3.75},
      {"x":73.3,"y":4.2},{"x":74.1,"y":4.4},{"x":74.6,"y":4.3},{"x":75.0,"y":4.44},{"x":75.4,"y":4.24},{"x":76.1,"y":4.12},{"x":76.8,"y":4.01},{"x":77.2,"y":4.24},{"x":76.5,"y":3.91},{"x":76.3,"y":4.28},{"x":73.7,"y":4.3},{"x":74.4,"y":4.15},{"x":75.2,"y":4.35},{"x":75.7,"y":4.3},{"x":75.8,"y":4.1},{"x":76.0,"y":4.35},{"x":76.6,"y":4.15},{"x":77.0,"y":4.1},{"x":74.8,"y":4.2},{"x":73.9,"y":4.12},
      {"x":75.0,"y":4.05},{"x":75.3,"y":4.15},{"x":75.6,"y":4.45},{"x":75.9,"y":4.25},{"x":76.2,"y":3.95},{"x":76.4,"y":4.05},{"x":76.9,"y":4.3},{"x":77.4,"y":4.05},{"x":77.6,"y":3.85},{"x":78.0,"y":4.1},
      {"x":78.6,"y":4.24},{"x":78.3,"y":4.06},{"x":77.9,"y":3.69},{"x":77.7,"y":3.48},{"x":79.0,"y":3.8},{"x":79.4,"y":3.64},{"x":80.1,"y":3.53},{"x":80.4,"y":3.37},{"x":80.8,"y":3.64},{"x":78.1,"y":3.88},{"x":78.5,"y":3.95},{"x":78.2,"y":4.2},{"x":77.8,"y":3.6},{"x":79.2,"y":3.5},{"x":79.7,"y":3.75},{"x":78.8,"y":4.1},{"x":80.6,"y":3.5},{"x":80.3,"y":3.7},
      {"x":78.4,"y":3.75},{"x":78.7,"y":3.85},{"x":79.1,"y":3.65},{"x":79.5,"y":3.9},{"x":79.9,"y":3.55},{"x":80.2,"y":3.45},{"x":80.7,"y":3.4},{"x":81.4,"y":3.6},{"x":81.8,"y":3.45},{"x":82.0,"y":3.7},{"x":82.4,"y":3.6},{"x":82.9,"y":3.65},{"x":83.3,"y":3.6},
      {"x":79.0,"y":4.75},{"x":80.6,"y":4.56},{"x":82.2,"y":4.4},{"x":82.7,"y":4.56},{"x":83.3,"y":4.17},{"x":81.0,"y":4.4},{"x":81.5,"y":4.6},{"x":81.8,"y":4.3},{"x":82.0,"y":4.6},{"x":82.5,"y":4.25},{"x":83.0,"y":4.45},{"x":81.2,"y":4.2},{"x":80.8,"y":4.7},{"x":80.0,"y":4.6},{"x":79.4,"y":4.7},{"x":81.6,"y":4.45},{"x":82.3,"y":4.75},
      {"x":82.4,"y":3.9},{"x":82.8,"y":3.8},{"x":83.1,"y":3.95},{"x":83.5,"y":3.75},{"x":82.6,"y":4.05},
      {"x":81.9,"y":3.3},{"x":82.3,"y":3.45},{"x":82.7,"y":3.35},{"x":83.1,"y":3.5},{"x":83.5,"y":3.3},{"x":80.9,"y":3.3},{"x":81.3,"y":3.45},{"x":81.6,"y":3.3},{"x":81.1,"y":3.55},
      {"x":83.6,"y":3.95},{"x":83.9,"y":4.1},{"x":84.2,"y":3.85},{"x":84.5,"y":4.2},{"x":84.8,"y":3.95},{"x":84.4,"y":3.65},{"x":83.8,"y":3.7},{"x":83.6,"y":4.45},{"x":84.0,"y":4.35},{"x":84.3,"y":4.05},{"x":84.6,"y":4.5},
      {"x":84.6,"y":3.4},{"x":84.9,"y":3.2},{"x":85.2,"y":3.45},{"x":85.5,"y":3.3},{"x":85.8,"y":3.5},{"x":86.1,"y":3.25},{"x":86.4,"y":3.4},{"x":85.0,"y":3.55},
      {"x":84.8,"y":3.5},{"x":85.4,"y":3.6},{"x":85.9,"y":3.35},{"x":86.2,"y":3.5},{"x":86.7,"y":3.45},{"x":87.3,"y":3.5},{"x":87.9,"y":3.3},{"x":88.2,"y":3.45},{"x":85.6,"y":3.2},{"x":84.3,"y":3.35},
      {"x":86.3,"y":3.15},{"x":86.6,"y":3.3},{"x":86.9,"y":3.1},{"x":87.1,"y":3.35},{"x":87.4,"y":3.2},{"x":87.7,"y":3.4},{"x":88.0,"y":3.15},{"x":88.3,"y":3.3},{"x":86.8,"y":3.59},{"x":87.7,"y":3.59},{"x":87.0,"y":3.45},{"x":83.8,"y":3.27},
      {"x":75.8,"y":2.6},{"x":76.1,"y":2.5},{"x":76.5,"y":2.55},{"x":76.7,"y":2.4},{"x":76.9,"y":2.3},{"x":77.1,"y":2.5},{"x":77.3,"y":2.2},{"x":77.5,"y":2.38},{"x":76.8,"y":2.15},{"x":77.2,"y":2.62},{"x":77.6,"y":2.55},{"x":78.0,"y":2.45},{"x":78.3,"y":2.6},{"x":78.6,"y":2.48},{"x":79.0,"y":2.58},{"x":79.4,"y":2.45},
      {"x":76.4,"y":2.35},{"x":76.6,"y":2.2},{"x":77.0,"y":2.45},{"x":77.2,"y":2.3},{"x":77.4,"y":2.55},{"x":77.7,"y":2.3},{"x":77.8,"y":2.6},{"x":78.1,"y":2.55},{"x":76.6,"y":2.62},{"x":77.0,"y":2.1},
      {"x":80.2,"y":2.45},{"x":80.6,"y":2.55},{"x":81.0,"y":2.4},{"x":81.4,"y":2.6},{"x":81.8,"y":2.45},{"x":82.1,"y":2.55},{"x":79.8,"y":2.55},{"x":80.4,"y":2.6},{"x":80.8,"y":2.45},{"x":81.2,"y":2.52},{"x":81.6,"y":2.42},{"x":82.0,"y":2.62},{"x":82.4,"y":2.5},
      {"x":83.2,"y":2.4},{"x":83.5,"y":2.6},{"x":83.8,"y":2.3},{"x":84.1,"y":2.5},{"x":84.4,"y":2.65},{"x":84.7,"y":2.35},{"x":85.0,"y":2.55},{"x":85.3,"y":2.3},{"x":85.6,"y":2.6},{"x":85.9,"y":2.42},{"x":86.2,"y":2.55},{"x":86.5,"y":2.3},{"x":86.8,"y":2.5},{"x":87.1,"y":2.62},{"x":84.0,"y":2.2},{"x":86.0,"y":2.25},
      {"x":83.4,"y":2.5},{"x":83.7,"y":2.45},{"x":83.6,"y":2.15},{"x":83.9,"y":2.35},{"x":84.2,"y":2.6},{"x":84.3,"y":2.3},{"x":84.5,"y":2.05},{"x":84.6,"y":2.5},{"x":84.9,"y":2.2},{"x":85.1,"y":2.4},{"x":85.4,"y":2.05},{"x":85.5,"y":2.45},{"x":85.7,"y":2.2},{"x":85.8,"y":1.85},{"x":86.1,"y":2.35},{"x":86.3,"y":2.0},{"x":86.5,"y":2.6},{"x":86.6,"y":2.15},{"x":86.9,"y":2.35},{"x":87.0,"y":2.05},{"x":85.9,"y":1.6},{"x":85.6,"y":1.75},{"x":86.1,"y":1.7},{"x":86.6,"y":1.85},{"x":84.6,"y":1.65},{"x":85.0,"y":1.6},
      {"x":84.7,"y":2.1},{"x":85.0,"y":1.95},{"x":85.2,"y":2.15},{"x":85.4,"y":1.8},{"x":85.6,"y":2.0},{"x":85.8,"y":1.7},{"x":86.0,"y":1.9},{"x":86.2,"y":2.1},{"x":86.4,"y":1.75},{"x":85.3,"y":1.5},{"x":85.5,"y":1.62},{"x":85.1,"y":1.72},{"x":84.8,"y":1.85},{"x":86.3,"y":1.55},
      {"x":75.7,"y":3.15},{"x":77.2,"y":3.1},{"x":79.8,"y":3.2},{"x":81.4,"y":3.05},{"x":78.5,"y":2.95}
    ],
    "stage2": [
      {"x":86.0,"y":1.13},{"x":86.4,"y":1.11},{"x":86.8,"y":1.14},{"x":87.2,"y":1.12},{"x":87.6,"y":1.1},{"x":88.0,"y":1.13},{"x":88.4,"y":1.11},{"x":88.8,"y":1.14},{"x":89.2,"y":1.12},{"x":89.6,"y":1.1},{"x":90.0,"y":1.13},{"x":90.4,"y":1.11},{"x":90.8,"y":1.12},{"x":91.2,"y":1.14},{"x":91.6,"y":1.11},{"x":92.0,"y":1.09},{"x":92.4,"y":1.12},{"x":92.8,"y":1.1},{"x":93.2,"y":1.13},{"x":93.6,"y":1.11},{"x":94.0,"y":1.09},{"x":94.4,"y":1.12},{"x":94.8,"y":1.1},{"x":95.2,"y":1.08},{"x":95.6,"y":1.11},{"x":96.0,"y":1.13},{"x":96.4,"y":1.1},{"x":96.8,"y":1.08},{"x":97.2,"y":1.06},{"x":97.6,"y":1.09},{"x":98.0,"y":1.07},{"x":98.4,"y":1.05},{"x":98.8,"y":1.08},{"x":99.2,"y":1.06},{"x":99.6,"y":1.09},{"x":100.0,"y":1.11},
      {"x":72.9,"y":1.2},{"x":73.3,"y":1.18},{"x":73.7,"y":1.21},{"x":74.1,"y":1.19},{"x":83.0,"y":1.22},{"x":83.4,"y":1.2},{"x":83.8,"y":1.23},{"x":84.2,"y":1.21},{"x":84.6,"y":1.19},{"x":85.0,"y":1.22},{"x":85.4,"y":1.2},{"x":85.8,"y":1.21},{"x":86.2,"y":1.19},{"x":86.6,"y":1.22},{"x":87.0,"y":1.2},{"x":87.4,"y":1.21},{"x":87.8,"y":1.19},{"x":88.2,"y":1.22},{"x":88.6,"y":1.2},{"x":89.0,"y":1.21},{"x":89.4,"y":1.19},{"x":89.8,"y":1.22},{"x":90.2,"y":1.2},{"x":90.6,"y":1.21},{"x":91.0,"y":1.19},{"x":91.4,"y":1.22},{"x":91.8,"y":1.2},{"x":92.2,"y":1.21},{"x":92.6,"y":1.19},{"x":93.0,"y":1.22},{"x":93.4,"y":1.2},{"x":93.8,"y":1.21},{"x":94.2,"y":1.19},{"x":94.6,"y":1.22},{"x":95.0,"y":1.2},{"x":95.4,"y":1.18},{"x":95.8,"y":1.21},{"x":96.2,"y":1.19},{"x":96.6,"y":1.17},{"x":97.0,"y":1.16},{"x":97.4,"y":1.18},{"x":97.8,"y":1.15},{"x":98.2,"y":1.17},{"x":98.6,"y":1.15},{"x":99.0,"y":1.17},{"x":99.4,"y":1.15},{"x":99.8,"y":1.17},{"x":100.2,"y":1.19},{"x":100.6,"y":1.21},
      {"x":72.6,"y":1.3},{"x":73.0,"y":1.28},{"x":73.4,"y":1.31},{"x":73.8,"y":1.29},{"x":74.2,"y":1.32},{"x":74.6,"y":1.3},{"x":81.6,"y":1.31},{"x":82.0,"y":1.29},{"x":82.4,"y":1.32},{"x":82.8,"y":1.3},{"x":83.2,"y":1.28},{"x":83.6,"y":1.31},{"x":84.0,"y":1.29},{"x":84.4,"y":1.32},{"x":84.8,"y":1.3},{"x":85.2,"y":1.28},{"x":85.6,"y":1.31},{"x":86.0,"y":1.29},{"x":86.4,"y":1.32},{"x":86.8,"y":1.3},{"x":87.2,"y":1.28},{"x":87.6,"y":1.31},{"x":88.0,"y":1.29},{"x":88.4,"y":1.32},{"x":88.8,"y":1.3},{"x":89.2,"y":1.28},{"x":89.6,"y":1.31},{"x":90.0,"y":1.29},{"x":90.4,"y":1.32},{"x":90.8,"y":1.3},{"x":91.2,"y":1.28},{"x":91.6,"y":1.31},{"x":92.0,"y":1.29},{"x":92.4,"y":1.32},{"x":92.8,"y":1.3},{"x":93.2,"y":1.28},{"x":93.6,"y":1.31},{"x":94.0,"y":1.29},{"x":94.4,"y":1.32},{"x":94.8,"y":1.3},{"x":95.2,"y":1.28},{"x":95.6,"y":1.31},{"x":96.0,"y":1.29},{"x":96.4,"y":1.27},{"x":96.8,"y":1.3},{"x":97.2,"y":1.26},{"x":97.6,"y":1.28},{"x":98.0,"y":1.25},{"x":98.4,"y":1.27},{"x":98.8,"y":1.24},{"x":99.2,"y":1.26},{"x":99.6,"y":1.28},{"x":100.0,"y":1.27},{"x":100.4,"y":1.29},{"x":100.8,"y":1.3},{"x":101.2,"y":1.28},{"x":101.6,"y":1.3},{"x":102.2,"y":1.31},{"x":102.6,"y":1.29},{"x":103.0,"y":1.32},{"x":103.4,"y":1.3},
      {"x":71.4,"y":1.4},{"x":71.8,"y":1.38},{"x":72.2,"y":1.41},{"x":72.6,"y":1.39},{"x":73.0,"y":1.37},{"x":73.4,"y":1.4},{"x":73.8,"y":1.38},{"x":74.2,"y":1.41},{"x":74.6,"y":1.39},{"x":75.0,"y":1.42},{"x":75.4,"y":1.44},{"x":75.8,"y":1.43},{"x":76.2,"y":1.45},{"x":76.6,"y":1.43},{"x":77.0,"y":1.44},{"x":77.4,"y":1.42},{"x":77.8,"y":1.45},{"x":78.2,"y":1.43},{"x":78.6,"y":1.44},{"x":79.0,"y":1.42},{"x":79.4,"y":1.45},{"x":79.8,"y":1.43},{"x":80.2,"y":1.41},{"x":80.6,"y":1.39},{"x":81.0,"y":1.4},{"x":81.4,"y":1.38},{"x":81.8,"y":1.41},{"x":82.2,"y":1.39},{"x":82.6,"y":1.4},{"x":83.0,"y":1.38},{"x":83.4,"y":1.41},{"x":83.8,"y":1.39},{"x":84.2,"y":1.4},{"x":84.6,"y":1.38},{"x":85.0,"y":1.41},{"x":85.4,"y":1.39},{"x":85.8,"y":1.4},{"x":86.2,"y":1.38},{"x":86.6,"y":1.41},{"x":87.0,"y":1.39},{"x":87.4,"y":1.4},{"x":87.8,"y":1.38},{"x":88.2,"y":1.41},{"x":88.6,"y":1.39},{"x":89.0,"y":1.4},{"x":89.4,"y":1.38},{"x":89.8,"y":1.41},{"x":90.2,"y":1.39},{"x":90.6,"y":1.4},{"x":91.0,"y":1.38},{"x":91.4,"y":1.41},{"x":91.8,"y":1.39},{"x":92.2,"y":1.4},{"x":92.6,"y":1.38},{"x":93.0,"y":1.41},{"x":93.4,"y":1.39},{"x":93.8,"y":1.4},{"x":94.2,"y":1.38},{"x":94.6,"y":1.41},{"x":95.0,"y":1.39},{"x":95.4,"y":1.4},{"x":95.8,"y":1.38},{"x":96.2,"y":1.36},{"x":96.6,"y":1.38},{"x":97.0,"y":1.35},{"x":97.4,"y":1.37},{"x":97.8,"y":1.34},{"x":98.2,"y":1.36},{"x":98.6,"y":1.34},{"x":99.0,"y":1.36},{"x":99.4,"y":1.35},{"x":99.8,"y":1.37},{"x":100.2,"y":1.38},{"x":100.6,"y":1.36},{"x":101.0,"y":1.39},{"x":101.4,"y":1.37},{"x":101.8,"y":1.4},{"x":102.2,"y":1.38},{"x":102.6,"y":1.41},{"x":103.0,"y":1.39},{"x":103.4,"y":1.4},
      {"x":71.6,"y":1.48},{"x":72.0,"y":1.5},{"x":72.4,"y":1.47},{"x":72.8,"y":1.49},{"x":73.2,"y":1.51},{"x":73.6,"y":1.48},{"x":74.0,"y":1.5},{"x":74.4,"y":1.52},{"x":74.8,"y":1.5},{"x":75.2,"y":1.53},{"x":75.6,"y":1.51},{"x":76.0,"y":1.53},{"x":76.4,"y":1.52},{"x":76.8,"y":1.54},{"x":77.2,"y":1.52},{"x":77.6,"y":1.53},{"x":78.0,"y":1.51},{"x":78.4,"y":1.54},{"x":78.8,"y":1.52},{"x":79.2,"y":1.5},{"x":79.6,"y":1.53},{"x":80.0,"y":1.51},{"x":80.4,"y":1.49},{"x":80.8,"y":1.48},{"x":81.2,"y":1.5},{"x":81.6,"y":1.47},{"x":82.0,"y":1.49},{"x":82.4,"y":1.48},{"x":82.8,"y":1.5},{"x":83.2,"y":1.47},{"x":83.6,"y":1.49},{"x":84.0,"y":1.48},{"x":84.4,"y":1.5},{"x":84.8,"y":1.47},{"x":85.2,"y":1.45},{"x":85.6,"y":1.44},{"x":86.0,"y":1.46},{"x":86.4,"y":1.47},{"x":86.8,"y":1.49},{"x":87.2,"y":1.48},{"x":87.6,"y":1.5},{"x":88.0,"y":1.47},{"x":88.4,"y":1.49},{"x":88.8,"y":1.48},{"x":89.2,"y":1.5},{"x":89.6,"y":1.47},{"x":90.0,"y":1.49},{"x":90.4,"y":1.48},{"x":90.8,"y":1.5},{"x":91.2,"y":1.47},{"x":91.6,"y":1.49},{"x":92.0,"y":1.48},{"x":92.4,"y":1.5},{"x":92.8,"y":1.47},{"x":93.2,"y":1.49},{"x":93.6,"y":1.48},{"x":94.0,"y":1.5},{"x":94.4,"y":1.47},{"x":94.8,"y":1.49},{"x":95.2,"y":1.48},{"x":95.6,"y":1.46},{"x":96.0,"y":1.48},{"x":96.4,"y":1.45},{"x":96.8,"y":1.47},{"x":97.2,"y":1.44},{"x":97.6,"y":1.46},{"x":98.0,"y":1.43},{"x":98.4,"y":1.45},{"x":98.8,"y":1.43},{"x":99.2,"y":1.45},{"x":99.6,"y":1.44},{"x":100.0,"y":1.46},{"x":100.4,"y":1.47},{"x":100.8,"y":1.45},{"x":101.2,"y":1.48},{"x":101.6,"y":1.46},{"x":102.0,"y":1.49},{"x":102.4,"y":1.47},{"x":102.8,"y":1.5},{"x":103.2,"y":1.48},
      {"x":71.8,"y":1.57},{"x":72.2,"y":1.59},{"x":72.6,"y":1.56},{"x":73.0,"y":1.58},{"x":73.4,"y":1.6},{"x":73.8,"y":1.57},{"x":74.2,"y":1.59},{"x":74.6,"y":1.61},{"x":75.0,"y":1.59},{"x":75.4,"y":1.62},{"x":75.8,"y":1.6},{"x":76.2,"y":1.62},{"x":76.6,"y":1.61},{"x":77.0,"y":1.63},{"x":77.4,"y":1.61},{"x":77.8,"y":1.62},{"x":78.2,"y":1.6},{"x":78.6,"y":1.63},{"x":79.0,"y":1.61},{"x":79.4,"y":1.59},{"x":79.8,"y":1.62},{"x":80.2,"y":1.6},{"x":80.6,"y":1.58},{"x":81.0,"y":1.57},{"x":81.4,"y":1.59},{"x":81.8,"y":1.56},{"x":82.2,"y":1.58},{"x":82.6,"y":1.57},{"x":83.0,"y":1.59},{"x":83.4,"y":1.56},{"x":83.8,"y":1.58},{"x":84.2,"y":1.57},{"x":84.6,"y":1.59},{"x":86.6,"y":1.56},{"x":87.0,"y":1.58},{"x":87.4,"y":1.57},{"x":87.8,"y":1.59},{"x":88.2,"y":1.56},{"x":88.6,"y":1.58},{"x":89.0,"y":1.57},{"x":89.4,"y":1.59},{"x":89.8,"y":1.56},{"x":90.2,"y":1.58},{"x":90.6,"y":1.57},{"x":91.0,"y":1.59},{"x":91.4,"y":1.56},{"x":91.8,"y":1.58},{"x":92.2,"y":1.57},{"x":92.6,"y":1.59},{"x":93.0,"y":1.56},{"x":93.4,"y":1.58},{"x":93.8,"y":1.57},{"x":94.2,"y":1.59},{"x":94.6,"y":1.56},{"x":95.0,"y":1.58},{"x":95.4,"y":1.57},{"x":95.8,"y":1.55},{"x":96.2,"y":1.57},{"x":96.6,"y":1.54},{"x":97.0,"y":1.56},{"x":97.4,"y":1.53},{"x":97.8,"y":1.55},{"x":98.2,"y":1.53},{"x":98.6,"y":1.55},{"x":99.0,"y":1.54},{"x":99.4,"y":1.56},{"x":99.8,"y":1.55},{"x":100.2,"y":1.57},{"x":100.6,"y":1.56},{"x":101.0,"y":1.58},{"x":101.3,"y":1.55},{"x":103.0,"y":1.58},{"x":103.4,"y":1.6},
      {"x":72.0,"y":1.66},{"x":72.4,"y":1.68},{"x":72.8,"y":1.65},{"x":73.2,"y":1.67},{"x":73.6,"y":1.69},{"x":74.0,"y":1.66},{"x":74.4,"y":1.68},{"x":74.8,"y":1.7},{"x":75.2,"y":1.68},{"x":75.6,"y":1.71},{"x":76.0,"y":1.69},{"x":76.4,"y":1.71},{"x":76.8,"y":1.7},{"x":77.2,"y":1.72},{"x":77.6,"y":1.7},{"x":78.0,"y":1.71},{"x":78.4,"y":1.69},{"x":78.8,"y":1.72},{"x":79.2,"y":1.7},{"x":79.6,"y":1.68},{"x":80.0,"y":1.71},{"x":80.4,"y":1.69},{"x":80.8,"y":1.67},{"x":81.2,"y":1.66},{"x":81.6,"y":1.68},{"x":82.0,"y":1.65},{"x":82.4,"y":1.67},{"x":82.8,"y":1.66},{"x":83.2,"y":1.68},{"x":83.6,"y":1.65},{"x":84.0,"y":1.67},{"x":84.4,"y":1.66},{"x":86.6,"y":1.67},{"x":87.0,"y":1.65},{"x":87.4,"y":1.67},{"x":87.8,"y":1.66},{"x":88.2,"y":1.68},{"x":88.6,"y":1.65},{"x":89.0,"y":1.67},{"x":89.4,"y":1.66},{"x":89.8,"y":1.68},{"x":90.2,"y":1.65},{"x":90.6,"y":1.67},{"x":91.0,"y":1.66},{"x":91.4,"y":1.68},{"x":91.8,"y":1.65},{"x":92.2,"y":1.67},{"x":92.6,"y":1.66},{"x":93.0,"y":1.68},{"x":93.4,"y":1.65},{"x":93.8,"y":1.67},{"x":94.2,"y":1.66},{"x":94.6,"y":1.68},{"x":95.0,"y":1.65},{"x":95.4,"y":1.67},{"x":95.8,"y":1.66},{"x":96.2,"y":1.64},{"x":96.6,"y":1.66},{"x":97.0,"y":1.63},{"x":97.4,"y":1.65},{"x":97.8,"y":1.63},{"x":98.2,"y":1.65},{"x":98.6,"y":1.64},{"x":99.0,"y":1.66},{"x":99.4,"y":1.64},{"x":99.8,"y":1.66},{"x":100.2,"y":1.65},{"x":100.6,"y":1.67},{"x":101.0,"y":1.66},{"x":103.2,"y":1.67},{"x":103.6,"y":1.69},
      {"x":72.6,"y":1.76},{"x":73.0,"y":1.74},{"x":73.4,"y":1.77},{"x":73.8,"y":1.75},{"x":74.2,"y":1.78},{"x":74.6,"y":1.76},{"x":75.0,"y":1.78},{"x":75.4,"y":1.8},{"x":75.8,"y":1.79},{"x":76.2,"y":1.81},{"x":76.6,"y":1.79},{"x":77.0,"y":1.8},{"x":77.4,"y":1.78},{"x":77.8,"y":1.81},{"x":78.2,"y":1.79},{"x":78.6,"y":1.8},{"x":79.0,"y":1.78},{"x":79.4,"y":1.81},{"x":79.8,"y":1.79},{"x":80.2,"y":1.77},{"x":80.6,"y":1.76},{"x":81.0,"y":1.78},{"x":81.4,"y":1.75},{"x":81.8,"y":1.77},{"x":82.2,"y":1.76},{"x":82.6,"y":1.78},{"x":83.0,"y":1.75},{"x":83.4,"y":1.77},{"x":83.8,"y":1.8},{"x":84.1,"y":1.92},{"x":83.7,"y":2.05},{"x":86.6,"y":1.76},{"x":87.0,"y":1.74},{"x":87.4,"y":1.77},{"x":87.8,"y":1.75},{"x":88.2,"y":1.78},{"x":88.6,"y":1.76},{"x":89.0,"y":1.74},{"x":91.4,"y":1.76},{"x":91.8,"y":1.74},{"x":92.2,"y":1.77},{"x":92.6,"y":1.75},{"x":93.0,"y":1.78},{"x":93.4,"y":1.76},{"x":93.8,"y":1.74},{"x":94.2,"y":1.77},{"x":94.6,"y":1.75},{"x":95.0,"y":1.78},{"x":95.4,"y":1.76},{"x":95.8,"y":1.74},{"x":96.2,"y":1.73},{"x":96.6,"y":1.75},{"x":97.0,"y":1.72},{"x":97.4,"y":1.74},{"x":97.8,"y":1.73},{"x":98.2,"y":1.75},{"x":98.6,"y":1.73},{"x":99.0,"y":1.75},{"x":99.4,"y":1.74},{"x":99.8,"y":1.76},{"x":100.2,"y":1.74},{"x":100.6,"y":1.76},{"x":101.0,"y":1.75},{"x":101.3,"y":1.73},{"x":103.6,"y":1.76},{"x":104.0,"y":1.78},
      {"x":75.0,"y":1.84},{"x":75.4,"y":1.87},{"x":75.7,"y":1.9},{"x":77.2,"y":1.84},{"x":77.6,"y":1.86},{"x":78.0,"y":1.83},{"x":78.4,"y":1.85},{"x":78.8,"y":1.87},{"x":79.2,"y":1.84},{"x":79.6,"y":1.86},{"x":80.0,"y":1.83},{"x":80.4,"y":1.85},{"x":80.8,"y":1.84},{"x":81.2,"y":1.86},{"x":81.6,"y":1.83},{"x":82.0,"y":1.85},{"x":82.4,"y":1.84},{"x":82.8,"y":1.86},{"x":83.2,"y":1.83},{"x":87.0,"y":1.85},{"x":87.4,"y":1.83},{"x":87.8,"y":1.86},{"x":88.2,"y":1.84},{"x":88.6,"y":1.85},{"x":89.0,"y":1.83},{"x":91.6,"y":1.85},{"x":92.0,"y":1.83},{"x":92.4,"y":1.86},{"x":92.8,"y":1.84},{"x":93.2,"y":1.85},{"x":93.6,"y":1.83},{"x":94.0,"y":1.86},{"x":94.4,"y":1.84},{"x":94.8,"y":1.85},{"x":95.2,"y":1.83},{"x":95.6,"y":1.86},{"x":96.0,"y":1.84},{"x":96.4,"y":1.82},{"x":96.8,"y":1.84},{"x":97.2,"y":1.83},{"x":97.6,"y":1.85},{"x":98.0,"y":1.83},{"x":98.4,"y":1.85},{"x":98.8,"y":1.84},{"x":99.2,"y":1.86},{"x":99.6,"y":1.84},{"x":100.0,"y":1.85},{"x":100.4,"y":1.83},{"x":100.8,"y":1.86},{"x":101.2,"y":1.84},{"x":103.8,"y":1.85},{"x":104.2,"y":1.87},
      {"x":75.3,"y":1.94},{"x":75.7,"y":1.97},{"x":76.0,"y":2.0},{"x":77.4,"y":1.93},{"x":77.8,"y":1.95},{"x":78.2,"y":1.92},{"x":78.6,"y":1.94},{"x":79.0,"y":1.96},{"x":79.4,"y":1.93},{"x":79.8,"y":1.95},{"x":80.2,"y":1.92},{"x":80.6,"y":1.94},{"x":81.0,"y":1.93},{"x":81.4,"y":1.95},{"x":81.8,"y":1.92},{"x":82.2,"y":1.94},{"x":82.6,"y":1.93},{"x":83.0,"y":1.95},{"x":87.2,"y":1.94},{"x":87.6,"y":1.92},{"x":88.0,"y":1.95},{"x":88.4,"y":1.93},{"x":88.8,"y":1.94},{"x":91.8,"y":1.94},{"x":92.2,"y":1.92},{"x":92.6,"y":1.95},{"x":93.0,"y":1.93},{"x":93.4,"y":1.94},{"x":93.8,"y":1.92},{"x":94.2,"y":1.95},{"x":94.6,"y":1.93},{"x":95.0,"y":1.94},{"x":95.4,"y":1.92},{"x":95.8,"y":1.95},{"x":96.2,"y":1.93},{"x":96.6,"y":1.91},{"x":97.0,"y":1.93},{"x":97.4,"y":1.92},{"x":97.8,"y":1.94},{"x":98.2,"y":1.92},{"x":98.6,"y":1.94},{"x":99.0,"y":1.93},{"x":99.4,"y":1.95},{"x":99.8,"y":1.93},{"x":100.2,"y":1.94},{"x":100.6,"y":1.92},{"x":101.0,"y":1.95},{"x":101.4,"y":1.93},{"x":101.8,"y":1.95},{"x":102.2,"y":1.94},{"x":102.6,"y":1.92},{"x":103.0,"y":1.95},{"x":103.4,"y":1.93},{"x":103.8,"y":1.94},{"x":104.2,"y":1.96},
      {"x":75.6,"y":2.05},{"x":76.0,"y":2.08},{"x":76.3,"y":2.12},{"x":77.6,"y":2.02},{"x":78.0,"y":2.04},{"x":78.4,"y":2.01},{"x":78.8,"y":2.03},{"x":79.2,"y":2.05},{"x":79.6,"y":2.02},{"x":80.0,"y":2.04},{"x":80.4,"y":2.01},{"x":80.8,"y":2.03},{"x":81.2,"y":2.05},{"x":81.6,"y":2.02},{"x":82.2,"y":2.02},{"x":82.6,"y":2.04},{"x":83.0,"y":2.01},{"x":87.0,"y":2.03},{"x":87.4,"y":2.01},{"x":87.8,"y":2.04},{"x":88.2,"y":2.02},{"x":88.6,"y":2.03},{"x":89.0,"y":2.01},{"x":89.4,"y":2.04},{"x":89.8,"y":2.02},{"x":90.2,"y":2.03},{"x":90.6,"y":2.01},{"x":91.0,"y":2.04},{"x":91.4,"y":2.02},{"x":91.8,"y":2.03},{"x":92.2,"y":2.01},{"x":92.6,"y":2.04},{"x":93.0,"y":2.02},{"x":93.4,"y":2.03},{"x":93.8,"y":2.01},{"x":94.2,"y":2.04},{"x":94.6,"y":2.02},{"x":95.0,"y":2.03},{"x":95.4,"y":2.01},{"x":95.8,"y":2.04},{"x":96.2,"y":2.02},{"x":96.6,"y":2.0},{"x":97.0,"y":2.02},{"x":97.4,"y":2.01},{"x":97.8,"y":2.03},{"x":98.2,"y":2.01},{"x":98.6,"y":2.03},{"x":99.0,"y":2.02},{"x":99.4,"y":2.04},{"x":99.8,"y":2.02},{"x":100.2,"y":2.03},{"x":100.6,"y":2.01},{"x":101.0,"y":2.04},{"x":101.4,"y":2.02},{"x":101.8,"y":2.03},{"x":102.2,"y":2.01},{"x":102.6,"y":2.04},{"x":103.0,"y":2.02},{"x":103.4,"y":2.03},{"x":103.8,"y":2.01},{"x":104.2,"y":2.04},{"x":104.5,"y":2.06},
      {"x":75.9,"y":2.15},{"x":76.3,"y":2.2},{"x":77.8,"y":2.11},{"x":78.2,"y":2.13},{"x":78.6,"y":2.1},{"x":79.0,"y":2.12},{"x":79.4,"y":2.14},{"x":79.8,"y":2.11},{"x":80.2,"y":2.13},{"x":80.6,"y":2.1},{"x":81.0,"y":2.13},{"x":81.8,"y":2.12},{"x":82.4,"y":2.12},{"x":82.8,"y":2.1},{"x":87.2,"y":2.12},{"x":87.6,"y":2.1},{"x":88.0,"y":2.13},{"x":88.4,"y":2.11},{"x":88.8,"y":2.12},{"x":89.2,"y":2.1},{"x":89.6,"y":2.13},{"x":90.0,"y":2.11},{"x":90.4,"y":2.12},{"x":90.8,"y":2.1},{"x":91.2,"y":2.13},{"x":91.6,"y":2.11},{"x":92.0,"y":2.12},{"x":92.4,"y":2.1},{"x":92.8,"y":2.13},{"x":93.2,"y":2.11},{"x":93.6,"y":2.12},{"x":94.0,"y":2.1},{"x":94.4,"y":2.12},{"x":97.2,"y":2.11},{"x":97.6,"y":2.13},{"x":98.0,"y":2.1},{"x":98.4,"y":2.12},{"x":98.8,"y":2.11},{"x":99.2,"y":2.13},{"x":99.6,"y":2.1},{"x":100.0,"y":2.12},{"x":100.4,"y":2.11},{"x":100.8,"y":2.13},{"x":101.2,"y":2.1},{"x":101.6,"y":2.12},{"x":102.0,"y":2.11},{"x":102.4,"y":2.13},{"x":102.8,"y":2.1},{"x":103.2,"y":2.12},{"x":103.6,"y":2.11},{"x":104.0,"y":2.13},{"x":104.4,"y":2.12},
      {"x":75.6,"y":2.24},{"x":76.0,"y":2.22},{"x":76.4,"y":2.25},{"x":78.0,"y":2.2},{"x":78.4,"y":2.22},{"x":78.8,"y":2.19},{"x":79.2,"y":2.21},{"x":79.6,"y":2.23},{"x":80.0,"y":2.2},{"x":80.4,"y":2.22},{"x":80.8,"y":2.19},{"x":81.2,"y":2.21},{"x":81.6,"y":2.23},{"x":82.0,"y":2.2},{"x":82.4,"y":2.22},{"x":82.8,"y":2.19},{"x":87.4,"y":2.21},{"x":87.8,"y":2.19},{"x":88.2,"y":2.22},{"x":88.6,"y":2.2},{"x":89.0,"y":2.21},{"x":89.4,"y":2.19},{"x":89.8,"y":2.22},{"x":90.2,"y":2.2},{"x":90.6,"y":2.21},{"x":91.0,"y":2.19},{"x":91.4,"y":2.22},{"x":91.8,"y":2.2},{"x":92.2,"y":2.21},{"x":92.6,"y":2.19},{"x":93.0,"y":2.22},{"x":93.4,"y":2.2},{"x":93.8,"y":2.21},{"x":94.2,"y":2.19},{"x":97.4,"y":2.2},{"x":97.8,"y":2.22},{"x":98.2,"y":2.19},{"x":98.6,"y":2.21},{"x":99.0,"y":2.2},{"x":99.4,"y":2.22},{"x":99.8,"y":2.19},{"x":100.2,"y":2.21},{"x":100.6,"y":2.2},{"x":101.0,"y":2.22},{"x":101.4,"y":2.19},{"x":101.8,"y":2.21},{"x":102.2,"y":2.2},{"x":102.6,"y":2.22},{"x":103.0,"y":2.19},{"x":103.4,"y":2.21},{"x":103.8,"y":2.2},{"x":104.2,"y":2.22},
      {"x":75.5,"y":2.32},{"x":75.9,"y":2.3},{"x":76.3,"y":2.33},{"x":78.2,"y":2.29},{"x":78.6,"y":2.31},{"x":79.0,"y":2.28},{"x":79.4,"y":2.3},{"x":79.8,"y":2.32},{"x":80.2,"y":2.29},{"x":80.6,"y":2.31},{"x":81.0,"y":2.28},{"x":81.4,"y":2.3},{"x":81.8,"y":2.29},{"x":82.2,"y":2.31},{"x":82.6,"y":2.28},{"x":83.0,"y":2.3},{"x":87.6,"y":2.3},{"x":88.0,"y":2.28},{"x":88.4,"y":2.31},{"x":88.8,"y":2.29},{"x":89.2,"y":2.3},{"x":89.6,"y":2.28},{"x":90.0,"y":2.31},{"x":90.4,"y":2.29},{"x":90.8,"y":2.3},{"x":91.2,"y":2.28},{"x":91.6,"y":2.31},{"x":92.0,"y":2.29},{"x":92.4,"y":2.3},{"x":92.8,"y":2.28},{"x":93.2,"y":2.31},{"x":93.6,"y":2.29},{"x":94.0,"y":2.3},{"x":97.6,"y":2.27},{"x":98.0,"y":2.25},{"x":98.4,"y":2.28},{"x":98.8,"y":2.26},{"x":99.2,"y":2.27},{"x":99.6,"y":2.25},{"x":100.0,"y":2.27},{"x":100.4,"y":2.26},{"x":100.8,"y":2.24},{"x":101.2,"y":2.26},{"x":101.6,"y":2.25},{"x":102.0,"y":2.27},{"x":102.4,"y":2.25},{"x":102.8,"y":2.26},{"x":103.2,"y":2.24},{"x":103.9,"y":2.3},{"x":104.3,"y":2.32},{"x":104.7,"y":2.3},
      {"x":75.6,"y":2.4},{"x":76.0,"y":2.42},{"x":76.3,"y":2.39},{"x":82.4,"y":2.38},{"x":82.8,"y":2.4},{"x":89.8,"y":2.38},{"x":90.2,"y":2.4},{"x":90.6,"y":2.37},{"x":91.0,"y":2.39},{"x":91.4,"y":2.41},{"x":91.8,"y":2.38},{"x":92.2,"y":2.4},{"x":92.6,"y":2.37},{"x":93.0,"y":2.39},{"x":93.4,"y":2.41},{"x":93.8,"y":2.38},{"x":104.0,"y":2.39},{"x":104.4,"y":2.41},{"x":104.8,"y":2.4},{"x":105.2,"y":2.38},
      {"x":75.6,"y":2.5},{"x":75.9,"y":2.55},{"x":76.2,"y":2.48},{"x":82.6,"y":2.47},{"x":89.6,"y":2.48},{"x":90.0,"y":2.46},{"x":90.4,"y":2.49},{"x":90.8,"y":2.47},{"x":91.2,"y":2.45},{"x":91.6,"y":2.48},{"x":92.0,"y":2.46},{"x":103.9,"y":2.48},{"x":104.3,"y":2.5},{"x":104.7,"y":2.49},{"x":105.1,"y":2.47},{"x":105.4,"y":2.5},
      {"x":75.8,"y":2.62},{"x":76.1,"y":2.58},{"x":88.2,"y":2.55},{"x":88.6,"y":2.53},{"x":89.0,"y":2.56},{"x":89.4,"y":2.54},{"x":104.1,"y":2.57},{"x":104.5,"y":2.59},{"x":104.9,"y":2.56},{"x":105.3,"y":2.58},
      {"x":94.6,"y":2.92},{"x":95.0,"y":2.95},{"x":95.4,"y":2.93},{"x":95.8,"y":2.9},{"x":95.2,"y":2.88},
      {"x":73.7,"y":2.38},{"x":73.6,"y":2.06},{"x":73.6,"y":1.93},{"x":75.1,"y":2.06}
    ]
  },
  "encoding": {
    "x": {
      "field": "x", "type": "quantitative",
      "scale": {"domain": [58, 112], "nice": false, "zero": false},
      "axis": {"values": [60, 70, 80, 90, 100, 110], "title": "Outside Air Temperature ( ˚F)", "titlePadding": 12}
    },
    "y": {
      "field": "y", "type": "quantitative",
      "scale": {"domain": [0, 10], "nice": false, "zero": false},
      "axis": {"values": [0, 2, 4, 6, 8, 10], "title": "COP", "titlePadding": 14}
    }
  },
  "layer": [
    {
      "data": {"name": "baseline"},
      "mark": {"type": "circle", "size": 64, "opacity": 0.72},
      "encoding": {
        "color": {
          "datum": "Baseline", "type": "nominal",
          "scale": {"domain": ["Baseline", "Retrofit Stage 1", "Retrofit Stage 2"], "range": ["#E9A01A", "#1CBEEA", "#1854EA"]},
          "legend": {"title": null}
        }
      }
    },
    {
      "data": {"name": "stage1"},
      "mark": {"type": "circle", "size": 64, "opacity": 0.72},
      "encoding": {"color": {"datum": "Retrofit Stage 1", "type": "nominal"}}
    },
    {
      "data": {"name": "stage2"},
      "mark": {"type": "circle", "size": 64, "opacity": 0.72},
      "encoding": {"color": {"datum": "Retrofit Stage 2", "type": "nominal"}}
    }
  ],
  "config": {
    "view": {"stroke": "#000000", "strokeWidth": 1.2},
    "axis": {
      "grid": false, "domainColor": "#000000", "domainWidth": 1.2, "tickColor": "#000000", "tickSize": 8, "tickWidth": 1.2,
      "labelFont": "DejaVu Sans", "labelFontSize": 20, "labelColor": "#1a1a1a", "labelPadding": 9,
      "titleFont": "DejaVu Sans", "titleFontSize": 23, "titleFontWeight": "normal", "titleColor": "#1a1a1a"
    },
    "legend": {
      "orient": "top-left", "offset": 2, "padding": 8, "fillColor": "#ffffff", "strokeColor": "#cccccc", "cornerRadius": 4,
      "labelFont": "DejaVu Sans", "labelFontSize": 25, "labelColor": "#1a1a1a", "labelOffset": 33, "symbolOffset": 11,
      "symbolType": "circle", "symbolSize": 34, "symbolOpacity": 0.7, "rowPadding": 12, "labelLimit": 400
    }
  }
}
